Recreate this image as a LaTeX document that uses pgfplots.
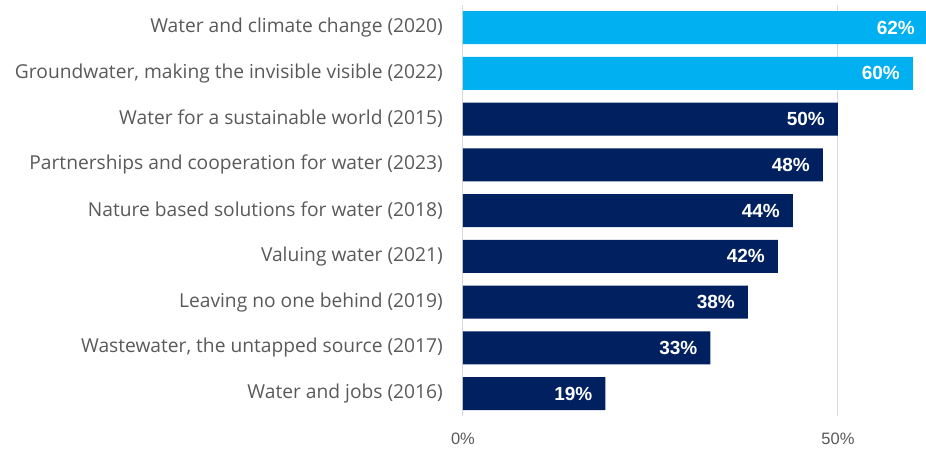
\documentclass[border=0pt]{standalone}
\usepackage{pgfplots}
\pgfplotsset{compat=1.18}
\usepackage{fontspec}
\setmainfont{Open Sans}
\newfontfamily\arialfont{Liberation Sans}
\definecolor{lightblue}{HTML}{00B0F0}
\definecolor{navy}{HTML}{002060}
\definecolor{txtgray}{HTML}{595959}
\definecolor{gridgray}{HTML}{D9D9D9}
\begin{document}
\begin{tikzpicture}
\begin{axis}[
  at={(0,0)}, anchor=south west,
  scale only axis, width=465bp, height=411.75bp,
  xbar, bar width=33bp,
  xmin=0, xmax=62,
  ymin=-0.5, ymax=8.5, y dir=reverse,
  ytick={0,...,8},
  yticklabels={Water and climate change (2020),
    {Groundwater, making the invisible visible (2022)},
    Water for a sustainable world (2015),
    Partnerships and cooperation for water (2023),
    Nature based solutions for water (2018),
    Valuing water (2021),
    Leaving no one behind (2019),
    {Wastewater, the untapped source (2017)},
    Water and jobs (2016)},
  yticklabel style={font=\fontsize{19.2bp}{22bp}\selectfont, text=txtgray, anchor=east, inner sep=0pt, xshift=-20bp},
  xtick={0,50}, xticklabels={0\%,50\%},
  xticklabel style={font=\arialfont\fontsize{16.5bp}{19bp}\selectfont, text=txtgray, anchor=north, inner sep=0pt, yshift=-16bp},
  major tick length=0pt,
  axis line style={draw=none},
  xmajorgrids, grid style={gridgray, line width=1bp},
  nodes near coords={\pgfmathprintnumber[assume math mode=true]{\pgfplotspointmeta}\%},
  point meta=x,
  nodes near coords style={font=\arialfont\bfseries\fontsize{19bp}{22bp}\selectfont, text=white, anchor=east, inner sep=0pt, xshift=-13bp},
]
\addplot[bar shift=0pt, fill=lightblue, draw=none] coordinates {(62,0) (60,1)};
\addplot[bar shift=0pt, fill=navy, draw=none] coordinates {(50,2) (48,3) (44,4) (42,5) (38,6) (33,7) (19,8)};
\end{axis}
\pgfresetboundingbox
\path (-463bp,-32.6bp) rectangle (463bp,416.4bp);
\end{tikzpicture}
\end{document}
